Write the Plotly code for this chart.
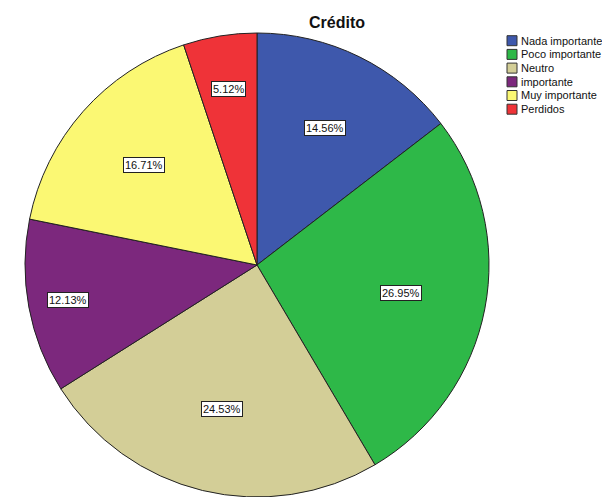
import math
import plotly.graph_objects as go

# Chart data
categories = ["Nada importante", "Poco importante", "Neutro", "importante", "Muy importante", "Perdidos"]
percentages = [14.56, 26.95, 24.53, 12.13, 16.71, 5.12]
colors = ["#3E58AC", "#2EB848", "#D3CE97", "#7C287D", "#FBF873", "#EF3338"]
title_text = "Crédito"

# Page geometry (pixels)
W, H = 602, 497
cx, cy, R = 257, 265, 232
# radial placement of each percentage label, as a fraction of the radius
label_radius = [0.66, 0.63, 0.64, 0.83, 0.65, 0.77]

fig = go.Figure()
fig.add_trace(go.Pie(
    labels=categories,
    values=percentages,
    sort=False,
    direction="clockwise",
    rotation=0,
    marker=dict(colors=colors, line=dict(color="#222222", width=1)),
    textinfo="none",
    hoverinfo="label+percent",
    domain=dict(x=[(cx - R) / W, (cx + R) / W], y=[0, 2 * R / H]),
    showlegend=False,
))

annotations = []
shapes = []

# Percentage labels at the middle angle of each slice
total = sum(percentages)
cum = 0.0
for i, v in enumerate(percentages):
    mid = (cum + v / 2) / total * 2 * math.pi
    cum += v
    d = R * label_radius[i]
    px = cx + d * math.sin(mid)
    py = cy - d * math.cos(mid)
    annotations.append(dict(
        x=px / W, y=(H - py) / H, xref="paper", yref="paper",
        text=f"{v:.2f}%", showarrow=False,
        font=dict(family="Arial, Liberation Sans", size=11, color="#111111"),
        bgcolor="white", bordercolor="#222222", borderwidth=1, borderpad=1,
        xanchor="center", yanchor="middle",
    ))

# Compact legend: colour squares with names
lx0, lx1, ly0, lstep = 507, 517, 40.7, 13.7
for i, (name, col) in enumerate(zip(categories, colors)):
    yc = ly0 + lstep * i
    shapes.append(dict(
        type="rect", xref="paper", yref="paper",
        x0=lx0 / W, x1=lx1 / W, y0=(H - (yc + 5)) / H, y1=(H - (yc - 5)) / H,
        fillcolor=col, line=dict(color="#333333", width=1),
    ))
    annotations.append(dict(
        x=(lx1 + 2) / W, y=(H - yc) / H, xref="paper", yref="paper",
        text=name, showarrow=False, xanchor="left", yanchor="middle",
        font=dict(family="Arial, Liberation Sans", size=11, color="#111111"),
    ))

fig.update_layout(
    width=W, height=H,
    margin=dict(l=0, r=0, t=0, b=0),
    paper_bgcolor="white", plot_bgcolor="white",
    title=dict(text=f"<b>{title_text}</b>", x=337 / W, y=(H - 22) / H,
               xanchor="center", yanchor="middle",
               font=dict(family="Arial, Liberation Sans", size=16, color="#111111")),
    annotations=annotations,
    shapes=shapes,
)

fig.write_html("out.html")
